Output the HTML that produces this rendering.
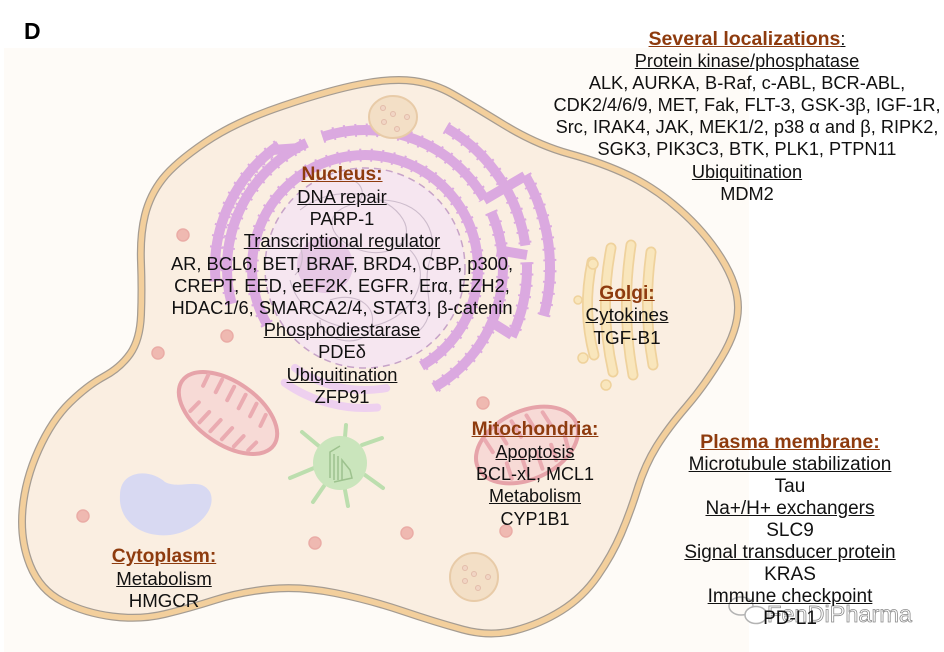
<!DOCTYPE html>
<html><head><meta charset="utf-8">
<style>
html,body{margin:0;padding:0;background:#fff;}
#wrap{position:relative;width:944px;height:652px;overflow:hidden;background:#fff;}
svg{position:absolute;left:0;top:0;}
.t{position:absolute;width:600px;font-family:"Liberation Sans",Arial,sans-serif;font-size:18px;text-align:center;color:#111;white-space:nowrap;}
.h{color:#8e3b0e;font-weight:bold;text-decoration:underline;font-size:19.2px;}
.u{text-decoration:underline;}
</style></head>
<body><div id="wrap">
<svg width="944" height="652" viewBox="0 0 944 652" xmlns="http://www.w3.org/2000/svg">
<rect x="4" y="48" width="745" height="604" fill="#fefbf7"/>
<text x="24" y="39" font-family="Liberation Sans, Arial, sans-serif" font-size="23" font-weight="bold" fill="#000">D</text>
<!-- cell -->
<path d="M361.5,84 Q393,78 414,81 Q435,84 452.5,94 Q470,104 503.5,124.5 Q537,145 570,154 Q603,163 629,175.5 Q655,188 680,210 Q705,232 721.5,258.5 Q738,285 738,307.5 Q738,330 721.5,357.5 Q705,385 686.5,406.5 Q668,428 656.5,446.5 Q645,465 637.5,489 Q630,513 621,534 Q612,555 597.5,576 Q583,597 561.5,610.5 Q540,624 515,630.5 Q490,637 462.5,629.5 Q435,622 402.5,611 Q370,600 335,593 Q300,586 270,589 Q240,592 215,600 Q190,608 165,614 Q140,620 112.5,616.5 Q85,613 62.5,601.5 Q40,590 30,565 Q20,540 22.5,510 Q25,480 38.5,450 Q52,420 70,402.5 Q88,385 104,376.5 Q120,368 130,354 Q140,340 141,315 Q142,290 141,262.5 Q140,235 145,215 Q150,195 162.5,179 Q175,163 205,142.5 Q235,122 282.5,106 Q330,90 361.5,84 Z" fill="#faeee1" stroke="#a59c92" stroke-width="8"/>
<path d="M361.5,84 Q393,78 414,81 Q435,84 452.5,94 Q470,104 503.5,124.5 Q537,145 570,154 Q603,163 629,175.5 Q655,188 680,210 Q705,232 721.5,258.5 Q738,285 738,307.5 Q738,330 721.5,357.5 Q705,385 686.5,406.5 Q668,428 656.5,446.5 Q645,465 637.5,489 Q630,513 621,534 Q612,555 597.5,576 Q583,597 561.5,610.5 Q540,624 515,630.5 Q490,637 462.5,629.5 Q435,622 402.5,611 Q370,600 335,593 Q300,586 270,589 Q240,592 215,600 Q190,608 165,614 Q140,620 112.5,616.5 Q85,613 62.5,601.5 Q40,590 30,565 Q20,540 22.5,510 Q25,480 38.5,450 Q52,420 70,402.5 Q88,385 104,376.5 Q120,368 130,354 Q140,340 141,315 Q142,290 141,262.5 Q140,235 145,215 Q150,195 162.5,179 Q175,163 205,142.5 Q235,122 282.5,106 Q330,90 361.5,84 Z" fill="none" stroke="#f3cf9c" stroke-width="5.5"/>

<!-- nucleus -->
<circle cx="365" cy="268" r="100" fill="#f6e6f0"/>
<circle cx="365" cy="268" r="100" fill="none" stroke="#c7a3c8" stroke-width="1.5" stroke-dasharray="7 5"/>
<circle cx="325" cy="265" r="28" fill="#e4c2e2" opacity="0.8"/>
<g fill="none" stroke="#cdbccc" stroke-width="1.1">
<path d="M300,210 C330,185 380,190 400,215 C420,240 390,260 360,250 C330,240 320,215 350,205"/>
<path d="M290,280 C300,320 350,340 390,320 C420,305 430,270 410,250"/>
<path d="M330,300 C360,290 380,310 370,330 C360,350 320,340 320,320"/>
<path d="M380,200 C420,200 440,230 430,260 C420,290 440,310 420,330"/>
<path d="M280,240 C300,230 310,260 295,275"/>
<path d="M340,180 C360,175 370,195 355,205"/>
</g>

<!-- ER -->
<g fill="none" stroke="#dba9e0">
<g stroke-width="10">
<path d="M267.1,324.5 A113,113 0 1 1 421.5,365.9"/>
<path d="M231.7,303.7 A138,138 0 0 1 306.7,142.9"/>
<path d="M322.4,136.8 A138,138 0 0 1 484.5,199"/>
<path d="M491.1,211.9 A138,138 0 0 1 434,387.5"/>
<path d="M215.6,281.1 A150,150 0 0 1 279,145.1"/>
<path d="M446,127.7 A162,162 0 0 1 525.4,245.5"/>
<path d="M526.9,262.3 A162,162 0 0 1 511.8,336.5"/>
<path d="M525.2,175.5 A185,185 0 0 1 543.7,315.9"/>
<path d="M484,200 L525,176 M272,150 L300,148 M497,250 L527,255 M488,320 L512,335"/>
</g>
<g stroke-width="13" stroke-dasharray="2 9">
<path d="M267.1,324.5 A113,113 0 1 1 421.5,365.9"/>
<path d="M231.7,303.7 A138,138 0 0 1 306.7,142.9"/>
<path d="M322.4,136.8 A138,138 0 0 1 484.5,199"/>
<path d="M491.1,211.9 A138,138 0 0 1 434,387.5"/>
<path d="M215.6,281.1 A150,150 0 0 1 279,145.1"/>
<path d="M446,127.7 A162,162 0 0 1 525.4,245.5"/>
<path d="M526.9,262.3 A162,162 0 0 1 511.8,336.5"/>
<path d="M525.2,175.5 A185,185 0 0 1 543.7,315.9"/>
</g>
<g stroke="#eed0ef" stroke-width="8" stroke-linecap="round">
<path d="M295,367.9 A122,122 0 0 0 386.2,388.1"/>
<path d="M284.7,382.7 A140,140 0 0 0 377.2,407.5"/>
</g>
</g>

<!-- vesicles -->
<g>
<ellipse cx="393" cy="117" rx="24" ry="21" fill="#f3dfc6" stroke="#e8cba8" stroke-width="2"/>
<g fill="#f1d5c4" stroke="#e3bcaa" stroke-width="1"><circle cx="383" cy="108" r="2.5"/><circle cx="393" cy="114" r="2.5"/><circle cx="407" cy="117" r="2.5"/><circle cx="384" cy="122" r="2.5"/><circle cx="397" cy="129" r="2.5"/></g>
<circle cx="474" cy="577" r="24" fill="#f3dfc6" stroke="#e8cba8" stroke-width="2"/>
<g fill="#f1d5c4" stroke="#e3bcaa" stroke-width="1"><circle cx="465" cy="568" r="2.5"/><circle cx="474" cy="574" r="2.5"/><circle cx="488" cy="577" r="2.5"/><circle cx="465" cy="581" r="2.5"/><circle cx="478" cy="588" r="2.5"/></g>
</g>

<!-- small lysosome dots -->
<g fill="#efb9b1" stroke="#eaaca6" stroke-width="1.5">
<circle cx="183" cy="235" r="6"/><circle cx="227" cy="336" r="6"/><circle cx="158" cy="353" r="6"/>
<circle cx="83" cy="516" r="6"/><circle cx="315" cy="543" r="6"/><circle cx="407" cy="533" r="6"/>
<circle cx="506" cy="531" r="6"/><circle cx="483" cy="403" r="6"/>
</g>

<!-- mitochondria left -->
<g transform="translate(228,413) rotate(35)">
<ellipse cx="0" cy="0" rx="56" ry="31" fill="#f7dad6" stroke="#e6a3a9" stroke-width="4"/>
<g stroke="#eaabb1" stroke-width="4" stroke-linecap="round">
<line x1="-38" y1="-20" x2="-36" y2="-8"/><line x1="-24" y1="-24" x2="-22" y2="-10"/><line x1="-10" y1="-25" x2="-8" y2="-10"/><line x1="4" y1="-25" x2="6" y2="-10"/><line x1="18" y1="-24" x2="20" y2="-10"/><line x1="32" y1="-20" x2="34" y2="-8"/>
<line x1="-32" y1="20" x2="-30" y2="8"/><line x1="-18" y1="24" x2="-16" y2="10"/><line x1="-4" y1="25" x2="-2" y2="10"/><line x1="10" y1="25" x2="12" y2="10"/><line x1="24" y1="24" x2="26" y2="10"/><line x1="38" y1="19" x2="40" y2="8"/>
</g>
</g>
<!-- mitochondria right -->
<g transform="translate(527,445) rotate(-25)">
<ellipse cx="0" cy="0" rx="54" ry="34" fill="#f7dad6" stroke="#e6a3a9" stroke-width="4"/>
<g stroke="#eaabb1" stroke-width="4" stroke-linecap="round">
<line x1="-36" y1="-22" x2="-34" y2="-8"/><line x1="-20" y1="-27" x2="-18" y2="-10"/><line x1="-4" y1="-28" x2="-2" y2="-10"/><line x1="12" y1="-27" x2="14" y2="-10"/><line x1="28" y1="-23" x2="30" y2="-8"/>
<line x1="-28" y1="24" x2="-26" y2="8"/><line x1="-12" y1="28" x2="-10" y2="10"/><line x1="4" y1="28" x2="6" y2="10"/><line x1="20" y1="26" x2="22" y2="10"/><line x1="36" y1="20" x2="38" y2="8"/>
</g>
</g>

<!-- golgi -->
<g fill="none" stroke-linecap="round">
<g stroke="#efd29c" stroke-width="11">
<path d="M592,262 Q582,310 594,355"/><path d="M611,248 Q599,310 613,372"/><path d="M631,245 Q621,310 633,375"/><path d="M651,252 Q643,310 653,365"/>
</g>
<g stroke="#f9e6bc" stroke-width="7.5">
<path d="M592,262 Q582,310 594,355"/><path d="M611,248 Q599,310 613,372"/><path d="M631,245 Q621,310 633,375"/><path d="M651,252 Q643,310 653,365"/>
</g>
</g>
<g fill="#f9e6bc" stroke="#efd29c" stroke-width="1.5">
<circle cx="583" cy="358" r="5"/><circle cx="606" cy="385" r="5"/><circle cx="593" cy="264" r="5"/><circle cx="578" cy="300" r="4"/>
</g>

<!-- centrosome -->
<g stroke="#bcdeae" stroke-width="4" stroke-linecap="round">
<line x1="345" y1="437" x2="346" y2="425"/>
<line x1="362" y1="445" x2="382" y2="438"/>
<line x1="365" y1="475" x2="383" y2="488"/>
<line x1="345" y1="490" x2="348" y2="506"/>
<line x1="324" y1="486" x2="313" y2="502"/>
<line x1="314" y1="468" x2="290" y2="478"/>
<line x1="320" y1="447" x2="302" y2="432"/>
</g>
<circle cx="340" cy="463" r="27" fill="#cae5bc"/>
<g stroke="#9dc28e" stroke-width="1.5" fill="none">
<path d="M330,478 L330,452 L340,446 M334,480 L334,454 M338,480 L338,456 M342,480 L342,460 L350,470 L352,478 L334,482"/>
</g>

<!-- blue blob -->
<path d="M120,495 C120,470 150,468 165,482 C180,490 200,476 210,492 C218,510 195,532 170,535 C140,538 118,520 120,495 Z" fill="#d8d9f2"/>

<!-- watermark -->
<g fill="none" stroke="#b3b3b3" stroke-width="1.5">
<ellipse cx="741" cy="606" rx="12" ry="9"/>
<ellipse cx="756" cy="615" rx="11" ry="8.5" fill="#fff"/>
</g>
<text x="767" y="622" font-family="Liberation Sans, Arial, sans-serif" font-size="23.5" fill="#ffffff" fill-opacity="0.75" stroke="#8c8c8c" stroke-width="0.8">FenDiPharma</text>
</svg>

<div class="t" style="left:42px;top:162.7px;line-height:22.2px;font-size:18.3px;">
<span class="h">Nucleus:</span><br>
<span class="u">DNA repair</span><br>
PARP-1<br>
<span class="u">Transcriptional regulator</span><br>
AR, BCL6, BET, BRAF, BRD4, CBP, p300,<br>
CREPT, EED, eEF2K, EGFR, Erα, EZH2,<br>
HDAC1/6, SMARCA2/4, STAT3, β-catenin<br>
<span class="u">Phosphodiestarase</span><br>
PDEδ<br>
<span class="u">Ubiquitination</span><br>
ZFP91
</div>

<div class="t" style="left:447px;top:27.7px;line-height:22.14px;font-size:18.2px;">
<span class="h" style="font-size:19.5px;">Several localizations</span><span class="u">:</span><br>
<span class="u">Protein kinase/phosphatase</span><br>
ALK, AURKA, B-Raf, c-ABL, BCR-ABL,<br>
CDK2/4/6/9, MET, Fak, FLT-3, GSK-3β, IGF-1R,<br>
Src, IRAK4, JAK, MEK1/2, p38 α and β, RIPK2,<br>
SGK3, PIK3C3, BTK, PLK1, PTPN11<br>
<span class="u">Ubiquitination</span><br>
MDM2
</div>

<div class="t" style="left:327px;top:282.7px;line-height:22.5px;font-size:18.9px;">
<span class="h">Golgi:</span><br>
<span class="u">Cytokines</span><br>
TGF-B1
</div>

<div class="t" style="left:235px;top:417.7px;line-height:22.25px;">
<span class="h">Mitochondria:</span><br>
<span class="u">Apoptosis</span><br>
BCL-xL, MCL1<br>
<span class="u">Metabolism</span><br>
CYP1B1
</div>

<div class="t" style="left:490px;top:430.7px;line-height:22.1px;font-size:19px;">
<span class="h" style="font-size:19.6px;">Plasma membrane:</span><br>
<span class="u">Microtubule stabilization</span><br>
Tau<br>
<span class="u">Na+/H+ exchangers</span><br>
SLC9<br>
<span class="u">Signal transducer protein</span><br>
KRAS<br>
<span class="u">Immune checkpoint</span><br>
PD-L1
</div>

<div class="t" style="left:-136px;top:544.7px;line-height:22px;font-size:18.7px;">
<span class="h">Cytoplasm:</span><br>
<span class="u">Metabolism</span><br>
HMGCR
</div>

</div></body></html>
